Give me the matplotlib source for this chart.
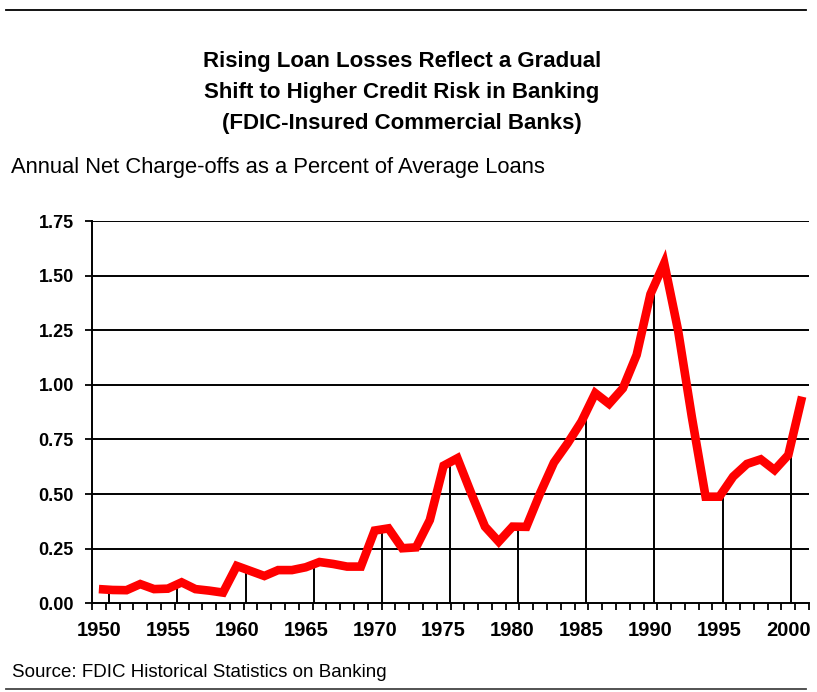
"""
Net charge-off rate, FDIC-insured commercial banks, 1950-2001
"""

import matplotlib.pyplot as plt
import numpy as np
from matplotlib.lines import Line2D

# data (percent of average loans)
years = np.arange(1950, 2002)
charge_offs = [
    0.065, 0.061, 0.060, 0.088, 0.065, 0.067, 0.096, 0.065, 0.058, 0.049,  # 1950s
    0.171, 0.148, 0.125, 0.152, 0.152, 0.165, 0.189, 0.180, 0.168, 0.168,  # 1960s
    0.333, 0.343, 0.252, 0.256, 0.381, 0.630, 0.664, 0.504, 0.351, 0.282,  # 1970s
    0.351, 0.350, 0.504, 0.644, 0.733, 0.832, 0.962, 0.913, 0.984, 1.137,  # 1980s
    1.415, 1.557, 1.251, 0.854, 0.488, 0.488, 0.580, 0.638, 0.659, 0.610,  # 1990s
    0.679, 0.946,                                                          # 2000s
]
label_years = list(range(1950, 2001, 5))
y_ticks = [0.00, 0.25, 0.50, 0.75, 1.00, 1.25, 1.50, 1.75]

title_lines = [
    "Rising Loan Losses Reflect a Gradual",
    "Shift to Higher Credit Risk in Banking",
    "(FDIC-Insured Commercial Banks)",
]
subtitle = "Annual Net Charge-offs as a Percent of Average Loans"
source = "Source: FDIC Historical Statistics on Banking"

plt.rcParams['font.family'] = ['Liberation Sans', 'DejaVu Sans']

W, H = 817, 692
fig = plt.figure(figsize=(W / 100, H / 100), dpi=100)

def fx(px):
    return px / W

def fy(py):
    return 1 - py / H

# plot area
ax = fig.add_axes([fx(92), fy(603.3), fx(809) - fx(92), fy(221) - fy(603.3)])
ax.set_xlim(1949.5, 2001.5)
ax.set_ylim(0, 1.75)

# horizontal grid
for t in y_ticks[1:]:
    ax.axhline(t, color='black', linewidth=1.4, zorder=1)

# drop lines every five years; in the original they sit a little right of
# the year and drift back toward it across the chart
for yr in label_years:
    xpos = yr + 0.75 - 0.0115 * (yr - label_years[0])
    top = np.interp(xpos, years, charge_offs)
    ax.vlines(xpos, 0, top, color='black', linewidth=1.4, zorder=2)

ax.plot(years, charge_offs, color='#ff0000', linewidth=6.2,
        solid_joinstyle='miter', solid_capstyle='butt', zorder=3)

for side in ['top', 'right']:
    ax.spines[side].set_visible(False)
for side in ['left', 'bottom']:
    ax.spines[side].set_linewidth(1.4)
    ax.spines[side].set_color('black')

ax.set_yticks(y_ticks)
ax.set_yticklabels([f"{t:.2f}" for t in y_ticks], fontsize=13, fontweight='bold')
ax.tick_params(axis='y', direction='out', length=5, width=1.3, pad=8)

ax.set_xticks(label_years)
ax.set_xticklabels([str(y) for y in label_years], fontsize=14.5, fontweight='bold')
ax.tick_params(axis='x', which='major', length=0, pad=13)
ax.set_xticks(np.arange(1949.5, 2002, 1), minor=True)
ax.tick_params(axis='x', which='minor', direction='out', length=5, width=1.3)

# titles and notes
for i, line in enumerate(title_lines):
    fig.text(fx(402), fy(67.3 + i * 30.7), line, ha='center', va='baseline',
             fontsize=16, fontweight='bold')
fig.text(fx(11), fy(173), subtitle, ha='left', va='baseline', fontsize=15.8)
fig.text(fx(12), fy(677), source, ha='left', va='baseline', fontsize=13.5)

# horizontal rules at top and bottom
fig.add_artist(Line2D([fx(6), fx(806)], [fy(10), fy(10)], color='black', linewidth=1.3))
fig.add_artist(Line2D([fx(6), fx(806)], [fy(689), fy(689)], color='#444444', linewidth=1.3))

fig.savefig('out.png', dpi=100)
